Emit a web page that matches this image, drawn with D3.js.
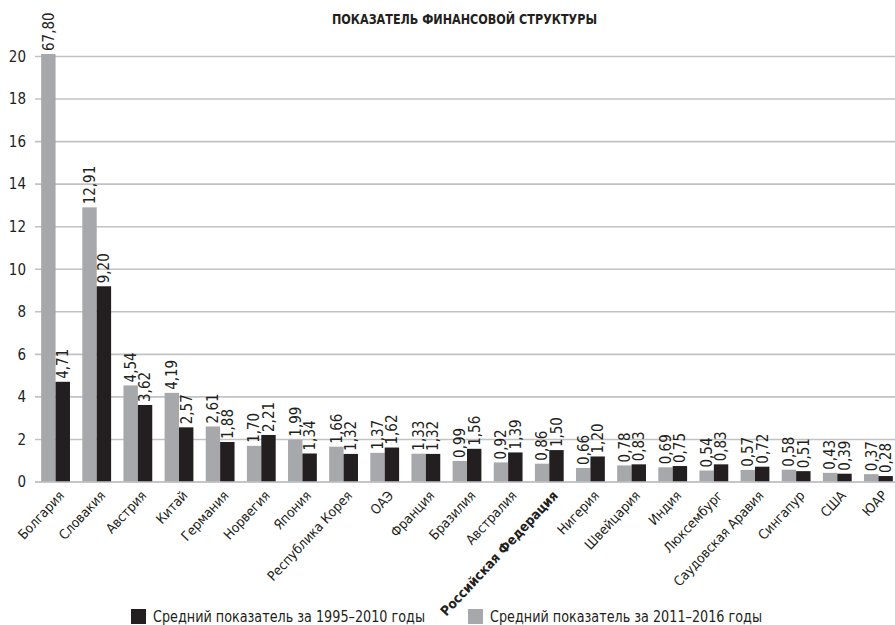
<!DOCTYPE html>
<html>
  <head>
    <meta charset="utf-8" />
    <script src="https://cdn.jsdelivr.net/npm/d3@7/dist/d3.min.js"></script>
    <style>
      body {
        margin: 0;
        background: white;
      }
      svg text {
        font-family: "Liberation Sans Narrow", "DejaVu Sans Condensed", sans-serif;
        fill: #231f20;
      }
    </style>
  </head>
  <body>
    <svg id="chart"></svg>
    <script>
      // data
      const countries = [
        "Болгария", "Словакия", "Австрия", "Китай", "Германия", "Норвегия",
        "Япония", "Республика Корея", "ОАЭ", "Франция", "Бразилия", "Австралия",
        "Российская Федерация", "Нигерия", "Швейцария", "Индия", "Люксембург",
        "Саудовская Аравия", "Сингапур", "США", "ЮАР"
      ];
      const late = [67.80, 12.91, 4.54, 4.19, 2.61, 1.70, 1.99, 1.66, 1.37, 1.33,
        0.99, 0.92, 0.86, 0.66, 0.78, 0.69, 0.54, 0.57, 0.58, 0.43, 0.37];
      const early = [4.71, 9.20, 3.62, 2.57, 1.88, 2.21, 1.34, 1.32, 1.62, 1.32,
        1.56, 1.39, 1.50, 1.20, 0.83, 0.75, 0.83, 0.72, 0.51, 0.39, 0.28];
      const yTicks = [0, 2, 4, 6, 8, 10, 12, 14, 16, 18, 20];
      const seriesNames = ["Средний показатель за 1995–2010 годы", "Средний показатель за 2011–2016 годы"];
      const bold = "Российская Федерация";

      const width = 895, height = 625;
      const grey = "#a7a8ab", black = "#231f20";

      const svg = d3.select("#chart").attr("width", width).attr("height", height);

      const x = d3.scaleBand()
        .domain(countries)
        .range([35, 899])
        .paddingInner(0.3)
        .paddingOuter(0.15);

      const xSub = d3.scaleBand()
        .domain(["late", "early"])
        .range([0, x.bandwidth()]);

      const y = d3.scaleLinear()
        .domain([0, 20])
        .range([482, 56.5])
        .clamp(true);

      const fmt = v => v.toFixed(2).replace(".", ",");

      svg.append("text")
        .attr("x", 464.5)
        .attr("y", 24)
        .attr("text-anchor", "middle")
        .attr("textLength", 265)
        .attr("lengthAdjust", "spacingAndGlyphs")
        .style("font-weight", "bold")
        .style("font-size", "14px")
        .text("ПОКАЗАТЕЛЬ ФИНАНСОВОЙ СТРУКТУРЫ");

      // grid + y labels
      const grid = svg.append("g");
      grid.selectAll("line")
        .data(yTicks)
        .enter()
        .append("line")
        .attr("x1", 35)
        .attr("x2", width)
        .attr("y1", d => y(d))
        .attr("y2", d => y(d))
        .style("stroke", "#c2c2c5")
        .style("stroke-width", 1.6);

      grid.selectAll("text")
        .data(yTicks)
        .enter()
        .append("text")
        .attr("x", 26)
        .attr("y", d => y(d))
        .attr("dy", "0.35em")
        .attr("text-anchor", "end")
        .style("font-size", "15px")
        .text(d => d);

      const rows = countries.map((c, i) => ({
        country: c,
        vals: [
          { key: "late", value: late[i], color: grey },
          { key: "early", value: early[i], color: black }
        ]
      }));

      const groups = svg.selectAll(".grp")
        .data(rows)
        .enter()
        .append("g")
        .attr("class", "grp")
        .attr("transform", d => `translate(${x(d.country)},0)`);

      // bar over the top of the axis gets a small overshoot, like in the print
      const over = v => (v > 20 ? 2.5 : 0);

      groups.selectAll("rect")
        .data(d => d.vals)
        .enter()
        .append("rect")
        .attr("x", d => xSub(d.key))
        .attr("width", xSub.bandwidth())
        .attr("y", d => y(d.value) - over(d.value))
        .attr("height", d => y(0) - y(d.value) + over(d.value))
        .style("fill", d => d.color);

      groups.selectAll("text.val")
        .data(d => d.vals)
        .enter()
        .append("text")
        .attr("class", "val")
        .attr("transform", d => {
          const cx = xSub(d.key) + xSub.bandwidth() / 2;
          const top = y(d.value) - over(d.value) - 3;
          return `translate(${cx},${top}) rotate(-90)`;
        })
        .attr("dy", "0.36em")
        .style("font-size", "15px")
        .text(d => fmt(d.value));

      // baseline
      svg.append("line")
        .attr("x1", 35)
        .attr("x2", width)
        .attr("y1", y(0))
        .attr("y2", y(0))
        .style("stroke", "#c2c2c5")
        .style("stroke-width", 1.6);

      // category labels
      svg.append("g")
        .selectAll("text")
        .data(countries)
        .enter()
        .append("text")
        .attr("transform", d => `translate(${x(d) + x.bandwidth() / 2 + 6},${493}) rotate(-47)`)
        .attr("text-anchor", "end")
        .attr("dy", "0.35em")
        .style("font-size", "13.5px")
        .style("font-weight", d => (d === bold ? "bold" : "normal"))
        .text(d => d);

      // legend
      const legend = svg.append("g");
      const legendItems = [
        { name: seriesNames[0], color: black, x: 131 },
        { name: seriesNames[1], color: grey, x: 468 }
      ];
      legend.selectAll("rect")
        .data(legendItems)
        .enter()
        .append("rect")
        .attr("x", d => d.x)
        .attr("y", 609)
        .attr("width", 15)
        .attr("height", 15)
        .style("fill", d => d.color);
      legend.selectAll("text")
        .data(legendItems)
        .enter()
        .append("text")
        .attr("x", d => d.x + 22)
        .attr("y", 622)
        .attr("textLength", 272)
        .attr("lengthAdjust", "spacingAndGlyphs")
        .style("font-size", "15px")
        .text(d => d.name);
    </script>
  </body>
</html>
